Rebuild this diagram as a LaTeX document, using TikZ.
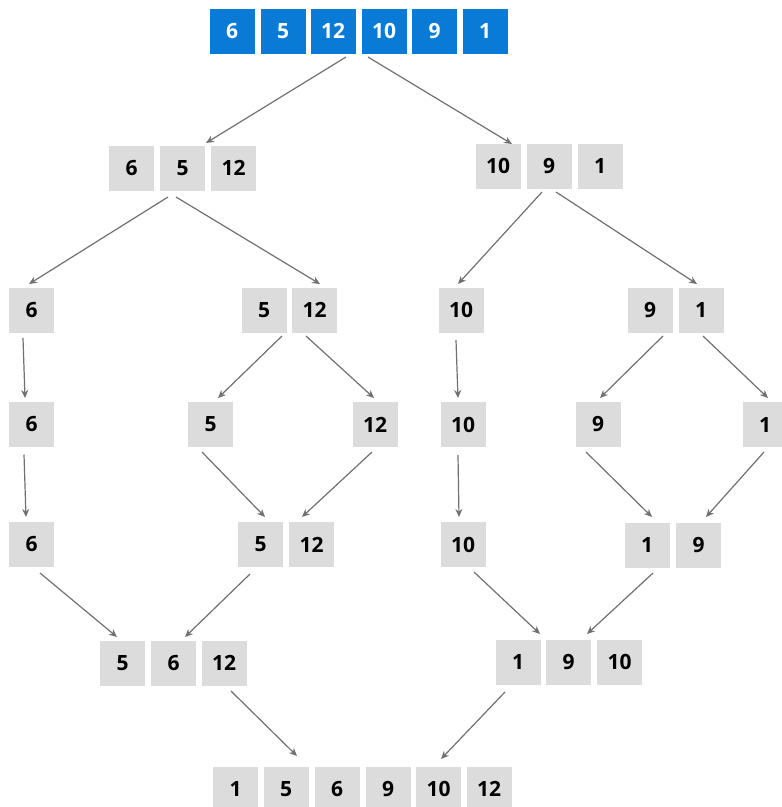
\documentclass[tikz,border=0pt]{standalone}
\usepackage{fontspec}
\setmainfont{Open Sans}
\usetikzlibrary{arrows.meta,calc}
\definecolor{boxblue}{RGB}{10,122,215}
\definecolor{boxgray}{RGB}{220,220,220}
\definecolor{arrowgray}{RGB}{112,112,112}
\begin{document}
\begin{tikzpicture}[x=1pt,y=-1pt,
  cell/.style={minimum width=45pt,minimum height=45pt,inner sep=0pt,
    font=\fontsize{21}{21}\selectfont\bfseries},
  gcell/.style={cell,fill=boxgray,text=black},
  bcell/.style={cell,fill=boxblue,text=white},
  arr/.style={draw=arrowgray,line width=1.2pt,-{Stealth[length=8pt,width=7pt]}}]
\useasboundingbox (0,0) rectangle (782,807);
% top row
\node[bcell] (t1) at (232,31) {6};
\node[bcell] (t2) at (283,31) {5};
\node[bcell] (t3) at (333,31) {12};
\node[bcell] (t4) at (384,31) {10};
\node[bcell] (t5) at (434.5,31) {9};
\node[bcell] (t6) at (485,31) {1};
% level 1
\node[gcell] (a1) at (131.5,168) {6};
\node[gcell] (a2) at (182.5,168) {5};
\node[gcell] (a3) at (233.5,168) {12};
\node[gcell] (b1) at (498,166) {10};
\node[gcell] (b2) at (549,166) {9};
\node[gcell] (b3) at (600,166) {1};
% level 2
\node[gcell] (c1) at (31.5,310) {6};
\node[gcell] (c2) at (264,310) {5};
\node[gcell] (c3) at (314.5,310) {12};
\node[gcell] (d1) at (461,310) {10};
\node[gcell] (d2) at (650,310) {9};
\node[gcell] (d3) at (701,310) {1};
% level 3
\node[gcell] (e1) at (31.5,424.5) {6};
\node[gcell] (e2) at (210.5,424.5) {5};
\node[gcell] (e3) at (375,424.5) {12};
\node[gcell] (f1) at (463,424.5) {10};
\node[gcell] (f2) at (598,424.5) {9};
\node[gcell] (f3) at (765,424.5) {1};
% level 4
\node[gcell] (g1) at (31.5,544.5) {6};
\node[gcell] (g2) at (260.5,544.5) {5};
\node[gcell] (g3) at (311.5,544.5) {12};
\node[gcell] (h1) at (463,544.5) {10};
\node[gcell] (h2) at (647,545) {1};
\node[gcell] (h3) at (698.5,545) {9};
% level 5
\node[gcell] (i1) at (122.5,663) {5};
\node[gcell] (i2) at (173.5,663) {6};
\node[gcell] (i3) at (224,663) {12};
\node[gcell] (j1) at (518,662) {1};
\node[gcell] (j2) at (568.5,662) {9};
\node[gcell] (j3) at (619.5,662) {10};
% level 6
\node[gcell] (k1) at (235.5,789) {1};
\node[gcell] (k2) at (286,789) {5};
\node[gcell] (k3) at (337,789) {6};
\node[gcell] (k4) at (388,789) {9};
\node[gcell] (k5) at (438.5,789) {10};
\node[gcell] (k6) at (489,789) {12};
% arrows
\draw[arr] ($(t3)+(13,26)$) -- ($(a2)+(23.5,-25)$);
\draw[arr] ($(t4)+(-16,26)$) -- ($(b1)+(14,-22)$);
\draw[arr] ($(a2)+(-14.5,29)$) -- ($(c1)+(-2.5,-26)$);
\draw[arr] ($(a2)+(-6.5,29)$) -- ($(c3)+(5.5,-26)$);
\draw[arr] ($(b2)+(-7,26)$) -- ($(d1)+(-3,-26)$);
\draw[arr] ($(b2)+(7,26)$) -- ($(d3)+(-4,-26)$);
\draw[arr] ($(c1)+(-8.5,28)$) -- ($(e1)+(-6.5,-26.5)$);
\draw[arr] ($(e1)+(-7.5,30)$) -- ($(g1)+(-5.5,-27.5)$);
\draw[arr] ($(c2)+(18,26)$) -- ($(e2)+(7.5,-26.5)$);
\draw[arr] ($(c3)+(-8.5,26)$) -- ($(e3)+(-1,-26.5)$);
\draw[arr] ($(d1)+(-5,30)$) -- ($(f1)+(-5,-26.5)$);
\draw[arr] ($(f1)+(-5,30.5)$) -- ($(h1)+(-4,-27.5)$);
\draw[arr] ($(d2)+(13,26)$) -- ($(f2)+(2,-26.5)$);
\draw[arr] ($(d3)+(2,26)$) -- ($(f3)+(3,-26.5)$);
\draw[arr] ($(e2)+(-8.5,27.5)$) -- ($(g2)+(4.5,-27.5)$);
\draw[arr] ($(e3)+(-3,27.5)$) -- ($(g3)+(-9.5,-27.5)$);
\draw[arr] ($(f2)+(-12,27.5)$) -- ($(h2)+(5,-28)$);
\draw[arr] ($(f3)+(-1,27.5)$) -- ($(h3)+(7.5,-28)$);
\draw[arr] ($(g1)+(8.5,28.5)$) -- ($(i1)+(-5.5,-26)$);
\draw[arr] ($(g2)+(-10.5,29.5)$) -- ($(i2)+(11.5,-26)$);
\draw[arr] ($(h1)+(11,27.5)$) -- ($(j1)+(22,-28)$);
\draw[arr] ($(h2)+(6,28)$) -- ($(j2)+(18.5,-28)$);
\draw[arr] ($(i3)+(7,28)$) -- ($(k2)+(11,-33)$);
\draw[arr] ($(j1)+(-13,30)$) -- ($(k5)+(2.5,-30)$);
\end{tikzpicture}
\end{document}
